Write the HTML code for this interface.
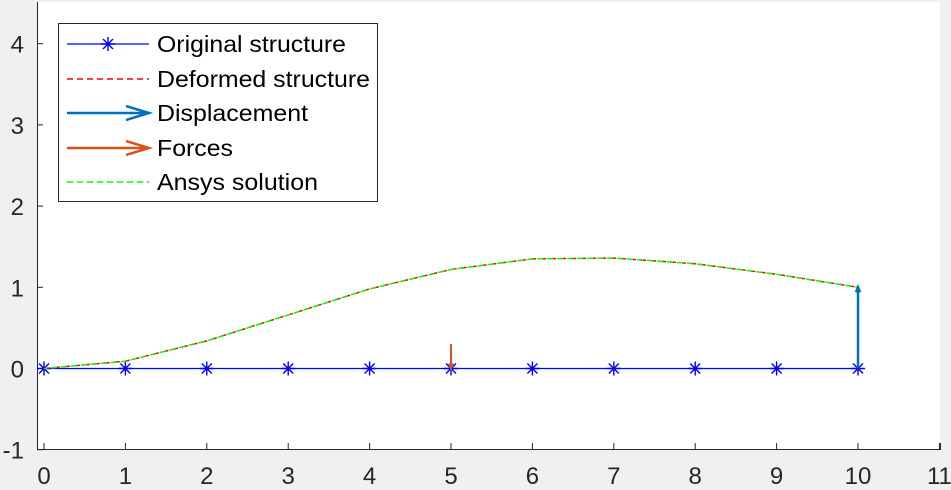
<!DOCTYPE html>
<html><head><meta charset="utf-8"><style>
body{margin:0;background:#f0f0f0;font-family:"Liberation Sans",sans-serif}
svg{display:block}
</style></head><body>
<svg width="951" height="490">
<rect x="37" y="2" width="903" height="447" fill="#fff"/>
<g id="g"></g>
</svg>
<script>
const xs=[0,1,2,3,4,5,6,7,8,9,10];
const orig=[0,0,0,0,0,0,0,0,0,0,0];
const deformed=[0,0.09,0.34,0.66,0.98,1.22,1.35,1.36,1.29,1.16,1.0];
const ansys=[0,0.09,0.34,0.66,0.98,1.22,1.35,1.36,1.29,1.16,1.0];
const xTicks=[0,1,2,3,4,5,6,7,8,9,10,11];
const yTicks=[-1,0,1,2,3,4];
const forceX=[5],forceMag=[0.3];
const dispX=[10],dispMag=[1.0];
const X=v=>44+v*81.4, Y=v=>368.5-v*81.2;
const g=document.getElementById('g');const NS='http://www.w3.org/2000/svg';
function mk(t,a,p){const e=document.createElementNS(NS,t);for(const k in a)e.setAttribute(k,a[k]);(p||g).appendChild(e);return e;}
const ax=mk('path',{d:'M37.5,2V449.5H940.5V443',stroke:'#262626',fill:'none','stroke-width':1});


xTicks.forEach(t=>{const l=mk('line',{x1:X(t),x2:X(t),y1:449,y2:443,stroke:'#262626'});


const tx=mk('text',{x:X(t),y:484,'text-anchor':'middle','font-size':24,fill:'#262626'});tx.textContent=t;

});
yTicks.forEach(t=>{const l=mk('line',{x1:37,x2:43,y1:Y(t),y2:Y(t),stroke:'#262626'});


const tx=mk('text',{x:24,y:Y(t)+9,'text-anchor':'end','font-size':24,fill:'#262626'});tx.textContent=t;

});
const pts=a=>xs.map((x,i)=>X(x)+','+Y(a[i])).join(' ');
const o=mk('polyline',{points:pts(orig),fill:'none',stroke:'#0000ff','stroke-width':1.3});


function star(cx,cy,p){const s=7;mk('path',{d:`M${cx-s},${cy}H${cx+s}M${cx},${cy-s}V${cy+s}M${cx-5},${cy-5}L${cx+5},${cy+5}M${cx-5},${cy+5}L${cx+5},${cy-5}`,stroke:'#0000ff','stroke-width':1.4},p);}
xs.forEach((x,i)=>star(X(x),Y(orig[i])));
const d=mk('polyline',{points:pts(deformed),fill:'none',stroke:'#ff0000','stroke-width':1.5,'stroke-dasharray':'6 4'});


const a=mk('polyline',{points:pts(ansys),fill:'none',stroke:'#00ff00','stroke-width':1.5,'stroke-dasharray':'6 4','stroke-dashoffset':3});


forceX.forEach((x,i)=>{const f=mk('path',{d:`M${X(x)},${Y(forceMag[i])}V${Y(0)}M${X(x)-2},${Y(0)-5}L${X(x)},${Y(0)}L${X(x)+2},${Y(0)-5}`,stroke:'#d95319','stroke-width':2,fill:'none'});

});
dispX.forEach((x,i)=>{const f=mk('path',{d:`M${X(x)},${Y(0)}V${Y(dispMag[i])}M${X(x)-2},${Y(dispMag[i])+5}L${X(x)},${Y(dispMag[i])}L${X(x)+2},${Y(dispMag[i])+5}`,stroke:'#0072bd','stroke-width':2.5,fill:'none'});

});
const L=mk('g',{});


mk('rect',{x:58.5,y:23.5,width:319,height:178,fill:'#fff',stroke:'#262626'},L);
const rows=[44,79,113,148,182];const labels=['Original structure','Deformed structure','Displacement','Forces','Ansys solution'];
mk('line',{x1:67,x2:149,y1:44,y2:44,stroke:'#0000ff','stroke-width':1.3},L);star(108,44,L);
mk('line',{x1:67,x2:149,y1:79,y2:79,stroke:'#ff0000','stroke-width':1.5,'stroke-dasharray':'6 4'},L);
mk('path',{d:'M67,113H149M126,106L149,113L126,120',stroke:'#0072bd','stroke-width':2.5,fill:'none'},L);
mk('path',{d:'M67,148H149M126,141L149,148L126,155',stroke:'#d95319','stroke-width':2.5,fill:'none'},L);
mk('line',{x1:67,x2:149,y1:182,y2:182,stroke:'#00ff00','stroke-width':1.5,'stroke-dasharray':'6 4'},L);
rows.forEach((y,i)=>{const t=mk('text',{x:157,y:y+8,'font-size':23.5,fill:'#000',textLength:[189,213,151,76,161][i],lengthAdjust:'spacingAndGlyphs'},L);t.textContent=labels[i];

});
</script>
</body></html>
